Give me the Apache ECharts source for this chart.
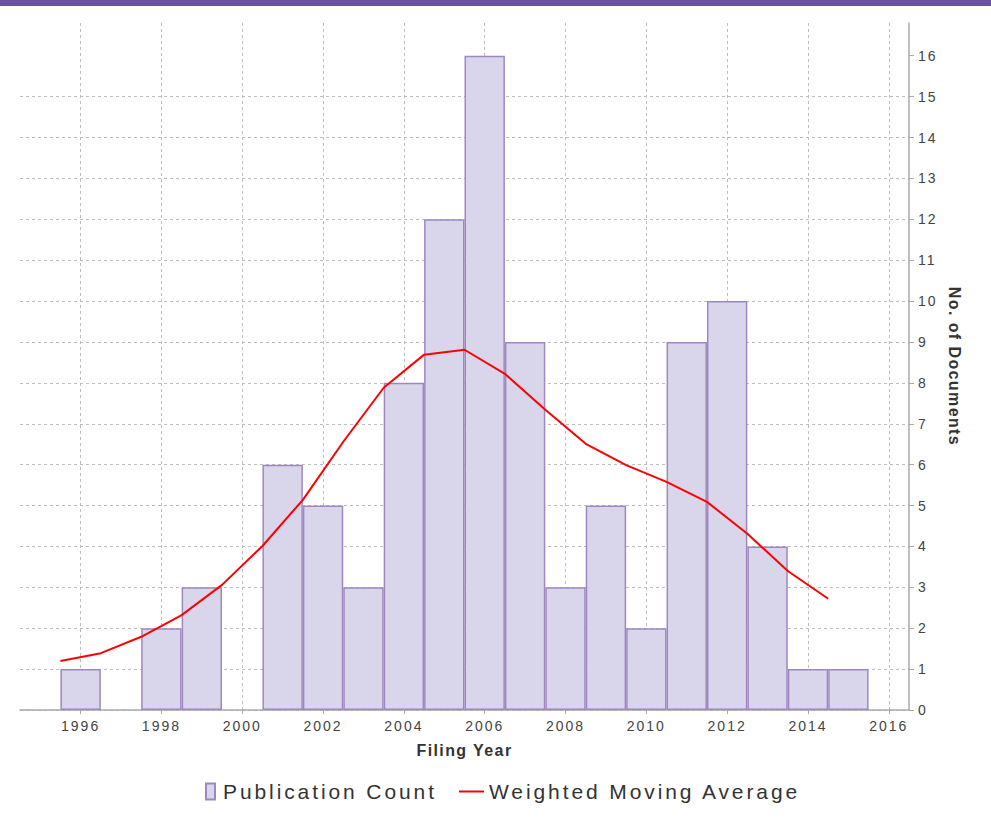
<!DOCTYPE html>
<html>
<head>
<meta charset="utf-8">
<script src="https://cdn.jsdelivr.net/npm/echarts@6/dist/echarts.min.js"></script>
<style>
  html, body { margin: 0; padding: 0; background: #fff; }
  #band { position: absolute; left: 0; top: 0; width: 991px; height: 6px; background: #6c549d; }
  #chart { width: 991px; height: 818px; }
  /* the reference uses loosely spaced lettering */
  #chart text { letter-spacing: 2px; }
  #chart text[style*="21px"] { letter-spacing: 2.9px; }
  #chart text[style*="bold"] { letter-spacing: 1.4px; }
</style>
</head>
<body>
<div id="band"></div>
<div id="chart"></div>
<script>
// filing years (one bar per year) and publication counts
var years = [1995, 1996, 1997, 1998, 1999, 2000, 2001, 2002, 2003, 2004, 2005,
             2006, 2007, 2008, 2009, 2010, 2011, 2012, 2013, 2014, 2015, 2016];
var counts = [null, 1, null, 2, 3, null, 6, 5, 3, 8, 12,
              16, 9, 3, 5, 2, 9, 10, 4, 1, 1, null];

// weighted moving average, plotted at the start of each year
var wmaX = [1995.5, 1996.5, 1997.5, 1998.5, 1999.5, 2000.5, 2001.5, 2002.5, 2003.5, 2004.5,
            2005.5, 2006.5, 2007.5, 2008.5, 2009.5, 2010.5, 2011.5, 2012.5, 2013.5, 2014.5];
var wmaValues = [1.2, 1.39, 1.79, 2.32, 3.06, 4.01, 5.14, 6.56, 7.88, 8.69,
                 8.81, 8.22, 7.34, 6.51, 5.99, 5.58, 5.09, 4.31, 3.40, 2.72];

var xTicks = [1996, 1998, 2000, 2002, 2004, 2006, 2008, 2010, 2012, 2014, 2016];
var yTicks = [0, 1, 2, 3, 4, 5, 6, 7, 8, 9, 10, 11, 12, 13, 14, 15, 16];

var wmaData = wmaX.map(function (x, i) { return [x, wmaValues[i]]; });

var gridLine = { show: true, lineStyle: { color: '#bdbdbd', type: [3, 3], width: 1 } };
var font = 'Arial, "Liberation Sans", sans-serif';

var myChart = echarts.init(document.getElementById('chart'), null, { renderer: 'svg' });
myChart.setOption({
    animation: false,
    textStyle: { fontFamily: font },
    grid: { left: 20, right: 82, top: 23, bottom: 108, containLabel: false },
    legend: [
        {
            data: ['Publication Count'],
            left: 200, top: 776,
            icon: 'rect', itemWidth: 9, itemHeight: 16,
            textStyle: { fontSize: 21, color: '#333', fontFamily: font, padding: [0, 0, 0, 3] }
        },
        {
            data: ['Weighted Moving Average'],
            left: 454, top: 776,
            icon: 'rect', itemWidth: 25, itemHeight: 2,
            textStyle: { fontSize: 21, color: '#333', fontFamily: font }
        }
    ],
    xAxis: [
        {
            type: 'category',
            data: years,
            boundaryGap: true,
            show: false
        },
        {
            type: 'value',
            min: 1994.5,
            max: 2016.5,
            position: 'bottom',
            name: 'Filing Year',
            nameLocation: 'middle',
            nameGap: 32,
            nameTextStyle: { fontSize: 16, fontWeight: 'bold', color: '#333' },
            axisLine: { show: true, lineStyle: { color: '#aaa', width: 1.5 } },
            axisTick: { show: true, length: 4, customValues: xTicks, lineStyle: { color: '#aaa' } },
            axisLabel: {
                customValues: xTicks, fontSize: 14, color: '#444', margin: 9,
                formatter: function (v) { return String(v); }
            },
            splitLine: gridLine
        }
    ],
    yAxis: {
        type: 'value',
        position: 'right',
        min: 0,
        max: 16.8,
        name: 'No. of Documents',
        nameLocation: 'middle',
        nameRotate: -90,
        nameGap: 37,
        nameTextStyle: { fontSize: 16, fontWeight: 'bold', color: '#333' },
        axisLine: { show: true, lineStyle: { color: '#aaa', width: 1.5 } },
        axisTick: { show: true, length: 5, customValues: yTicks, lineStyle: { color: '#aaa' } },
        axisLabel: { customValues: yTicks, fontSize: 14, color: '#444', margin: 9 },
        splitLine: Object.assign({ showMaxLine: false }, gridLine)
    },
    series: [
        {
            name: 'Publication Count',
            type: 'bar',
            xAxisIndex: 0,
            barWidth: '100%',
            data: counts,
            itemStyle: { color: '#d9d5ea', borderColor: '#9f88c0', borderWidth: 1.5 }
        },
        {
            name: 'Weighted Moving Average',
            type: 'line',
            xAxisIndex: 1,
            data: wmaData,
            symbol: 'none',
            lineStyle: { color: '#ff0000', width: 2 },
            itemStyle: { color: '#ff0000' }
        }
    ]
});
</script>
</body>
</html>
